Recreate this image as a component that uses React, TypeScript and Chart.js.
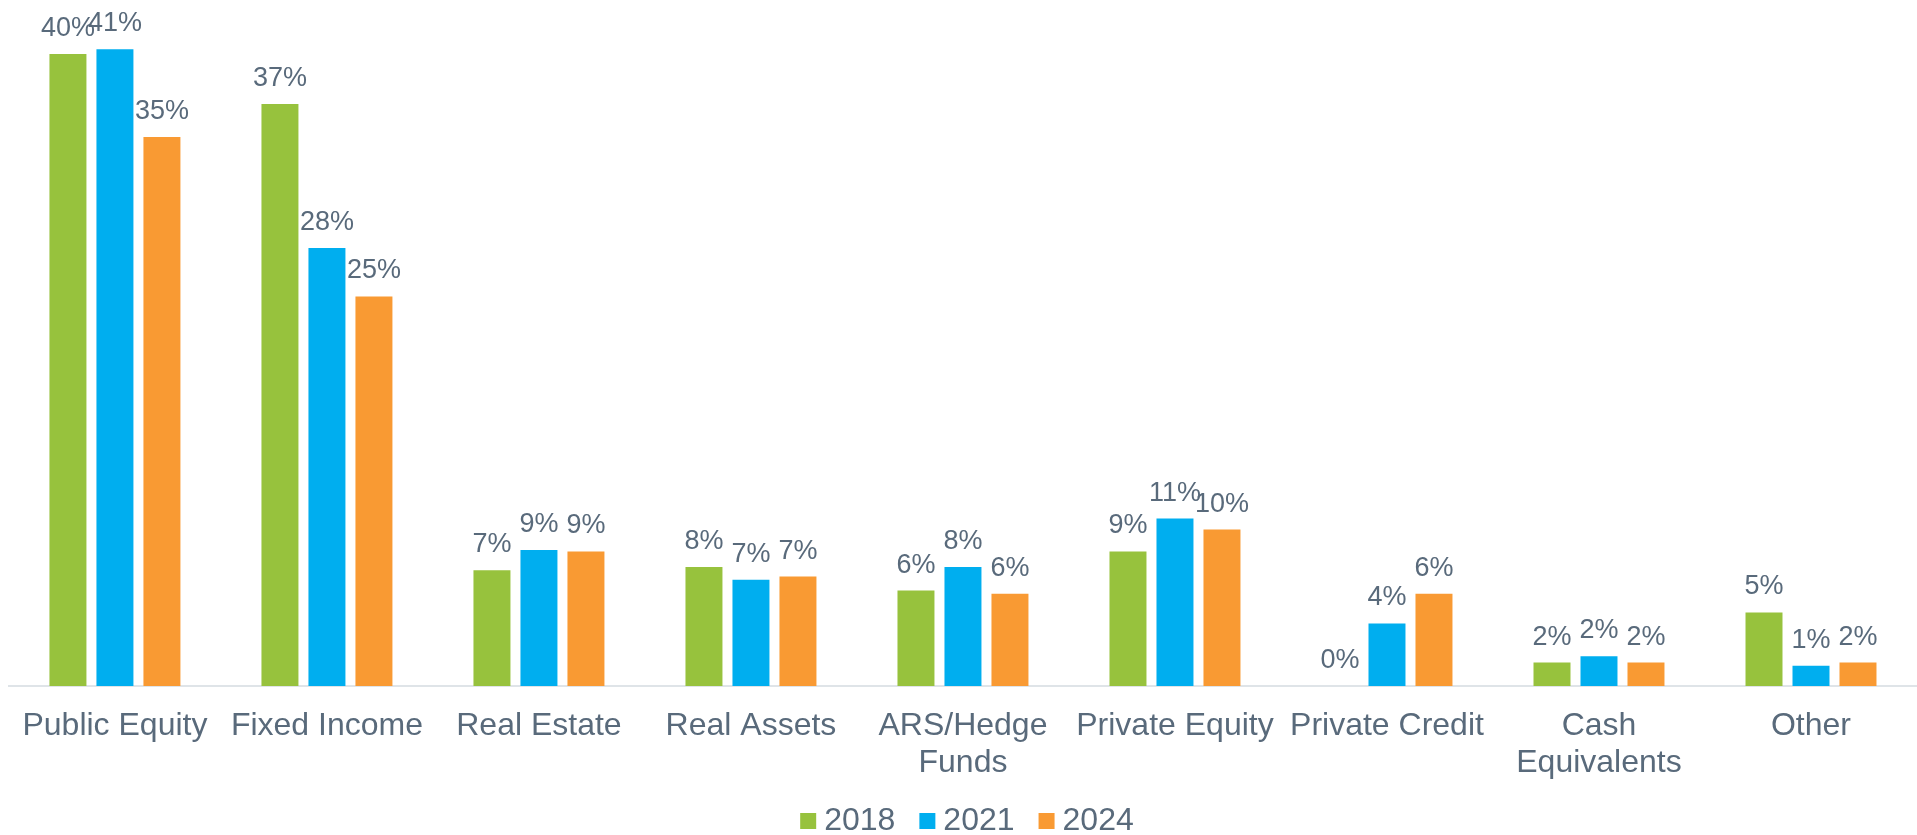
import React, { useEffect, useRef } from "react";
import { Chart, registerables } from "chart.js";

Chart.register(...registerables);

const categories: (string | string[])[] = [
  "Public Equity",
  "Fixed Income",
  "Real Estate",
  "Real Assets",
  ["ARS/Hedge", "Funds"],
  "Private Equity",
  "Private Credit",
  ["Cash", "Equivalents"],
  "Other",
];

const seriesNames = ["2018", "2021", "2024"];
const values2018 = [40.4, 37.2, 7.4, 7.6, 6.1, 8.6, 0, 1.5, 4.7];
const values2021 = [40.7, 28.0, 8.7, 6.8, 7.6, 10.7, 4.0, 1.9, 1.3];
const values2024 = [35.1, 24.9, 8.6, 7.0, 5.9, 10.0, 5.9, 1.5, 1.5];
const seriesColors = ["#97C23D", "#00AEEF", "#F99A33"];

const FONT = "'Liberation Sans', Arial, sans-serif";
const TEXT = "#596a7b";

const dataLabelPlugin = {
  id: "dataLabels",
  afterDatasetsDraw(chart: any) {
    const ctx = chart.ctx;
    ctx.save();
    ctx.font = `27px ${FONT}`;
    ctx.fillStyle = TEXT;
    ctx.textAlign = "center";
    ctx.textBaseline = "alphabetic";
    chart.data.datasets.forEach((ds: any, i: number) => {
      const meta = chart.getDatasetMeta(i);
      meta.data.forEach((el: any, j: number) => {
        const v = ds.data[j];
        ctx.fillText(Math.round(v) + "%", el.x, el.y - 18);
      });
    });
    ctx.restore();
  },
};

const legendPlugin = {
  id: "customLegend",
  afterDraw(chart: any) {
    const ctx = chart.ctx;
    ctx.save();
    ctx.font = `32px ${FONT}`;
    const box = 16;
    const gap = 8;
    const spacing = 24;
    const items = chart.data.datasets.map((ds: any) => ({
      text: ds.label,
      color: ds.backgroundColor,
      w: box + gap + ctx.measureText(ds.label).width,
    }));
    const total =
      items.reduce((s: number, it: any) => s + it.w, 0) + spacing * (items.length - 1);
    const area = chart.chartArea;
    let x = (area.left + area.right) / 2 + 4 - total / 2;
    const cy = 821;
    ctx.textBaseline = "middle";
    ctx.textAlign = "left";
    items.forEach((it: any) => {
      ctx.fillStyle = it.color;
      ctx.fillRect(x, cy - box / 2, box, box);
      ctx.fillStyle = TEXT;
      ctx.fillText(it.text, x + box + gap, cy);
      x += it.w + spacing;
    });
    ctx.restore();
  },
};

export default function App() {
  const ref = useRef<HTMLCanvasElement | null>(null);

  useEffect(() => {
    document.body.style.margin = "0";
    const canvas = ref.current;
    if (!canvas) return;
    const datasets = [values2018, values2021, values2024].map((vals, i) => ({
      label: seriesNames[i],
      data: vals,
      backgroundColor: seriesColors[i],
      borderWidth: 0,
      categoryPercentage: 0.665,
      barPercentage: 0.787,
    }));
    const chart = new Chart(canvas, {
      type: "bar",
      data: { labels: categories, datasets },
      options: {
        responsive: false,
        animation: false,
        layout: { padding: { top: 29, left: 8, right: 0, bottom: 0 } },
        plugins: {
          legend: { display: false },
          tooltip: { enabled: false },
        },
        scales: {
          x: {
            grid: { display: false, drawTicks: false },
            border: { display: true, color: "#dfe4e8", width: 2 },
            ticks: {
              color: TEXT,
              font: { family: FONT, size: 32, lineHeight: 1.15 },
              padding: 22,
              autoSkip: false,
              maxRotation: 0,
              minRotation: 0,
            },
            afterFit: (scale: any) => {
              scale.height = 149;
            },
          },
          y: {
            display: false,
            min: 0,
            max: 42,
          },
        },
      },
      plugins: [dataLabelPlugin, legendPlugin],
    });
    return () => chart.destroy();
  }, []);

  return (
    <div style={{ width: 1917, height: 835 }}>
      <canvas ref={ref} width={1917} height={835} style={{ display: "block" }} />
    </div>
  );
}
